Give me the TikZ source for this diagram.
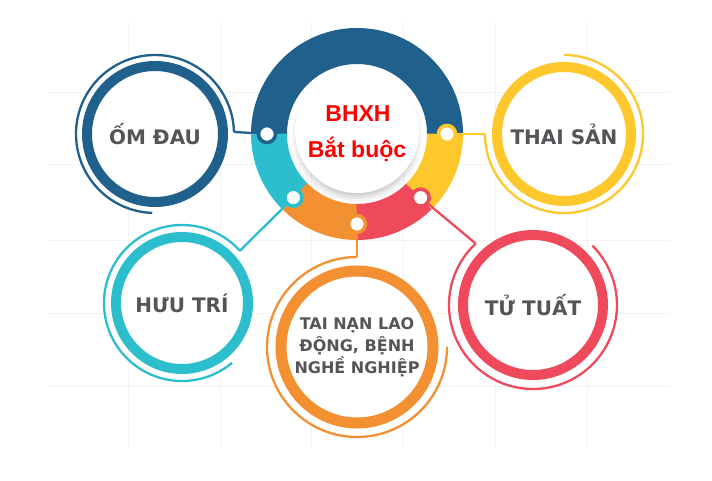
\documentclass[tikz,border=0pt]{standalone}
\usepackage{fontspec}
\usetikzlibrary{calc}
\newfontfamily\labfont{DejaVu Sans}
\newfontfamily\ctrfont{Liberation Sans}
\definecolor{cblue}{HTML}{1F608D}
\definecolor{cteal}{HTML}{2DBECD}
\definecolor{corange}{HTML}{F39031}
\definecolor{cred}{HTML}{EF4A5C}
\definecolor{cyellow}{HTML}{FEC82D}
\definecolor{txtgray}{HTML}{545558}
\definecolor{gridgray}{HTML}{F3F3F3}
\tikzset{
  sat/.style={circle, draw=#1, line width=10pt, fill=white, inner sep=0pt,
    text=txtgray, align=center},
  thinarc/.style={draw=#1, line width=2.3pt},
  conn/.style={draw=#1, line width=2.3pt},
  seg/.style={draw=#1, line width=36pt},
  dot/.style={circle, fill=white, draw=#1, line width=3.6pt, minimum size=17pt, inner sep=0pt},
  ctrtext/.style={text=red, font=\ctrfont\bfseries\fontsize{23}{26}\selectfont, inner sep=0pt},
  gridline/.style={draw=gridgray, line width=1pt}
}
\begin{document}
\begin{tikzpicture}[x=1pt,y=1pt]
\useasboundingbox (0,0) rectangle (712,-481);
\fill[white] (0,0) rectangle (712,-481);
% faint grid
\foreach \gx in {128,220,311,403,495,587} \draw[gridline] (\gx,-23) -- (\gx,-448);
\foreach \gy in {93,165,240,313,386} \draw[gridline] (48,-\gy) -- (670,-\gy);

% centre ring
\coordinate (c) at (357,-134);
\draw[seg=cblue]   ($(c)+(0:88pt)$)   arc[start angle=0,   end angle=180, radius=88pt];
\draw[seg=cteal]   ($(c)+(180:88pt)$) arc[start angle=180, end angle=225, radius=88pt];
\draw[seg=corange] ($(c)+(225:88pt)$) arc[start angle=225, end angle=270, radius=88pt];
\draw[seg=cred]    ($(c)+(270:88pt)$) arc[start angle=270, end angle=315, radius=88pt];
\draw[seg=cyellow] ($(c)+(315:88pt)$) arc[start angle=315, end angle=360, radius=88pt];
% inner disc with soft shadow
\foreach \r/\o in {66/0.02,64/0.03,62/0.04,60/0.05,58/0.05}
  \fill[black, opacity=\o] ($(c)+(0,-3)$) circle[radius=\r pt];
\fill[white] ($(c)+(0,3)$) circle[radius=62pt];

% satellite circles
\node[sat=cblue,   minimum size=136pt, font=\labfont\bfseries\fontsize{20}{24}\selectfont] (om)   at (155,-134) {ỐM ĐAU};
\node[sat=cyellow, minimum size=134pt, font=\labfont\bfseries\fontsize{20}{24}\selectfont] (thai) at (564,-134) {THAI SẢN};
\node[sat=cteal,   minimum size=132pt, font=\labfont\bfseries\fontsize{20}{24}\selectfont] (huu)  at (182,-303) {HƯU TRÍ};
\node[sat=corange, line width=11pt, minimum size=152pt, font=\labfont\bfseries\fontsize{16}{22}\selectfont] (tai) at (357,-347) {TAI NẠN LAO\\ĐỘNG, BỆNH\\NGHỀ NGHIỆP};
\node[sat=cred,    minimum size=140pt, font=\labfont\bfseries\fontsize{20}{24}\selectfont] (tu)   at (533,-305) {TỬ TUẤT};

% thin outer arcs
\draw[thinarc=cblue]   ($(om.center)+(1.5:79pt)$) coordinate (omA) arc[start angle=1.5, end angle=268, radius=79pt];
\draw[thinarc=cyellow] ($(thai.center)+(180:79pt)$) coordinate (thaiA) arc[start angle=180, end angle=450, radius=79pt];
\draw[thinarc=cteal]   ($(huu.center)+(42:78pt)$) coordinate (huuA) arc[start angle=42, end angle=310, radius=78pt];
\draw[thinarc=corange] ($(tai.center)+(90:90pt)$) coordinate (taiA) arc[start angle=90, end angle=360, radius=90pt];
\draw[thinarc=cred]    ($(tu.center)+(133:84pt)$) coordinate (tuA) arc[start angle=133, end angle=405, radius=84pt];

% dot positions
\coordinate (pB) at ($(c)+(180:90pt)$);
\coordinate (pT) at ($(c)+(225:90pt)$);
\coordinate (pO) at ($(c)+(270:90pt)$);
\coordinate (pR) at ($(c)+(315:90pt)$);
\coordinate (pY) at ($(c)+(0:90pt)$);

% connectors
\draw[conn=cblue]   (pB) -- (omA);
\draw[conn=cyellow] (pY) -- (thaiA);
\draw[conn=cteal]   (pT) -- (huuA);
\draw[conn=corange] (pO) -- (taiA);
\draw[conn=cred]    (pR) -- (tuA);

% dots
\node[dot=cblue]   (dB) at (pB) {};
\node[dot=cteal]   (dT) at (pT) {};
\node[dot=corange] (dO) at (pO) {};
\node[dot=cred]    (dR) at (pR) {};
\node[dot=cyellow] (dY) at (pY) {};

% centre text
\node[ctrtext] (t1) at (358,-114) {BHXH};
\node[ctrtext] (t2) at (357,-149) {Bắt buộc};
\end{tikzpicture}
\end{document}
